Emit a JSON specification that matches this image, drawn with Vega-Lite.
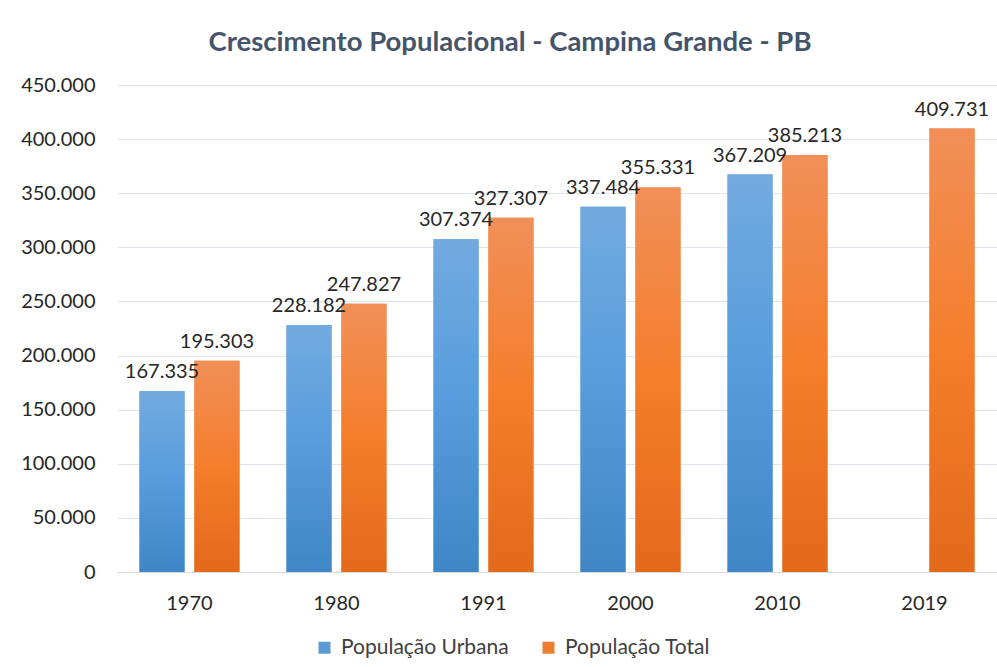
{
  "$schema": "https://vega.github.io/schema/vega-lite/v6.json",
  "width": 880,
  "height": 487,
  "autosize": {"type": "none"},
  "padding": {"left": 117, "top": 85, "right": 0, "bottom": 95},
  "background": "white",
  "config": {
    "locale": {"number": {"decimal": ",", "thousands": ".", "grouping": [3], "currency": ["R$", ""]}},
    "font": "Lato",
    "view": {"stroke": null}
  },
  "title": {
    "text": "Crescimento Populacional - Campina Grande - PB",
    "font": "Lato",
    "fontSize": 27.5,
    "fontWeight": "bold",
    "color": "#44546A",
    "anchor": "middle",
    "dx": -47,
    "offset": 19
  },
  "data": {
    "values": [
      {"ano": "1970", "serie": "População Urbana", "valor": 167335},
      {"ano": "1970", "serie": "População Total", "valor": 195303},
      {"ano": "1980", "serie": "População Urbana", "valor": 228182},
      {"ano": "1980", "serie": "População Total", "valor": 247827},
      {"ano": "1991", "serie": "População Urbana", "valor": 307374},
      {"ano": "1991", "serie": "População Total", "valor": 327307},
      {"ano": "2000", "serie": "População Urbana", "valor": 337484},
      {"ano": "2000", "serie": "População Total", "valor": 355331},
      {"ano": "2010", "serie": "População Urbana", "valor": 367209},
      {"ano": "2010", "serie": "População Total", "valor": 385213},
      {"ano": "2019", "serie": "População Total", "valor": 409731}
    ]
  },
  "encoding": {
    "x": {
      "field": "ano", "type": "nominal", "title": null,
      "scale": {"paddingInner": 0.32, "paddingOuter": 0.153},
      "axis": {"labelAngle": 0, "labelFontSize": 20, "labelColor": "#262626", "labelPadding": 21, "ticks": false, "domainColor": "#D9D9D9", "grid": false}
    },
    "xOffset": {
      "field": "serie", "type": "nominal",
      "scale": {"domain": ["População Urbana", "População Total"], "paddingInner": 0.18, "paddingOuter": 0}
    },
    "y": {
      "field": "valor", "type": "quantitative", "title": null,
      "scale": {"domain": [0, 450000], "nice": false},
      "axis": {"values": [0, 50000, 100000, 150000, 200000, 250000, 300000, 350000, 400000, 450000], "format": ",d", "labelFontSize": 20, "labelColor": "#262626", "labelPadding": 22, "ticks": false, "domain": false, "gridColor": "#DEE4EA", "gridWidth": 1}
    }
  },
  "layer": [
    {
      "mark": {"type": "bar"},
      "encoding": {
        "color": {
          "field": "serie", "type": "nominal",
          "scale": {"domain": ["População Urbana", "População Total"], "range": ["#5B9BD5", "#ED7D31"]},
          "legend": {"title": null, "orient": "none", "direction": "horizontal", "legendX": 197, "legendY": 552, "symbolType": "square", "symbolSize": 144, "labelFontSize": 21, "labelLimit": 400, "labelColor": "#404040", "columnPadding": 29, "labelOffset": 6, "symbolStrokeWidth": 0}
        }
      }
    },
    {
      "transform": [{"filter": "datum.serie === 'População Urbana'"}],
      "mark": {"type": "bar", "color": {"gradient": "linear", "x1": 0, "y1": 0, "x2": 0, "y2": 1, "stops": [{"offset": 0, "color": "#72AADF"}, {"offset": 0.5, "color": "#569CDD"}, {"offset": 1, "color": "#3F86C6"}]}}
    },
    {
      "transform": [{"filter": "datum.serie === 'População Total'"}],
      "mark": {"type": "bar", "color": {"gradient": "linear", "x1": 0, "y1": 0, "x2": 0, "y2": 1, "stops": [{"offset": 0, "color": "#F18F58"}, {"offset": 0.5, "color": "#F47E2B"}, {"offset": 1, "color": "#E3691B"}]}}
    },
    {
      "mark": {"type": "text", "baseline": "alphabetic", "dy": -13, "fontSize": 20, "color": "#262626"},
      "encoding": {"text": {"field": "valor", "type": "quantitative", "format": ",d"}}
    }
  ]
}
